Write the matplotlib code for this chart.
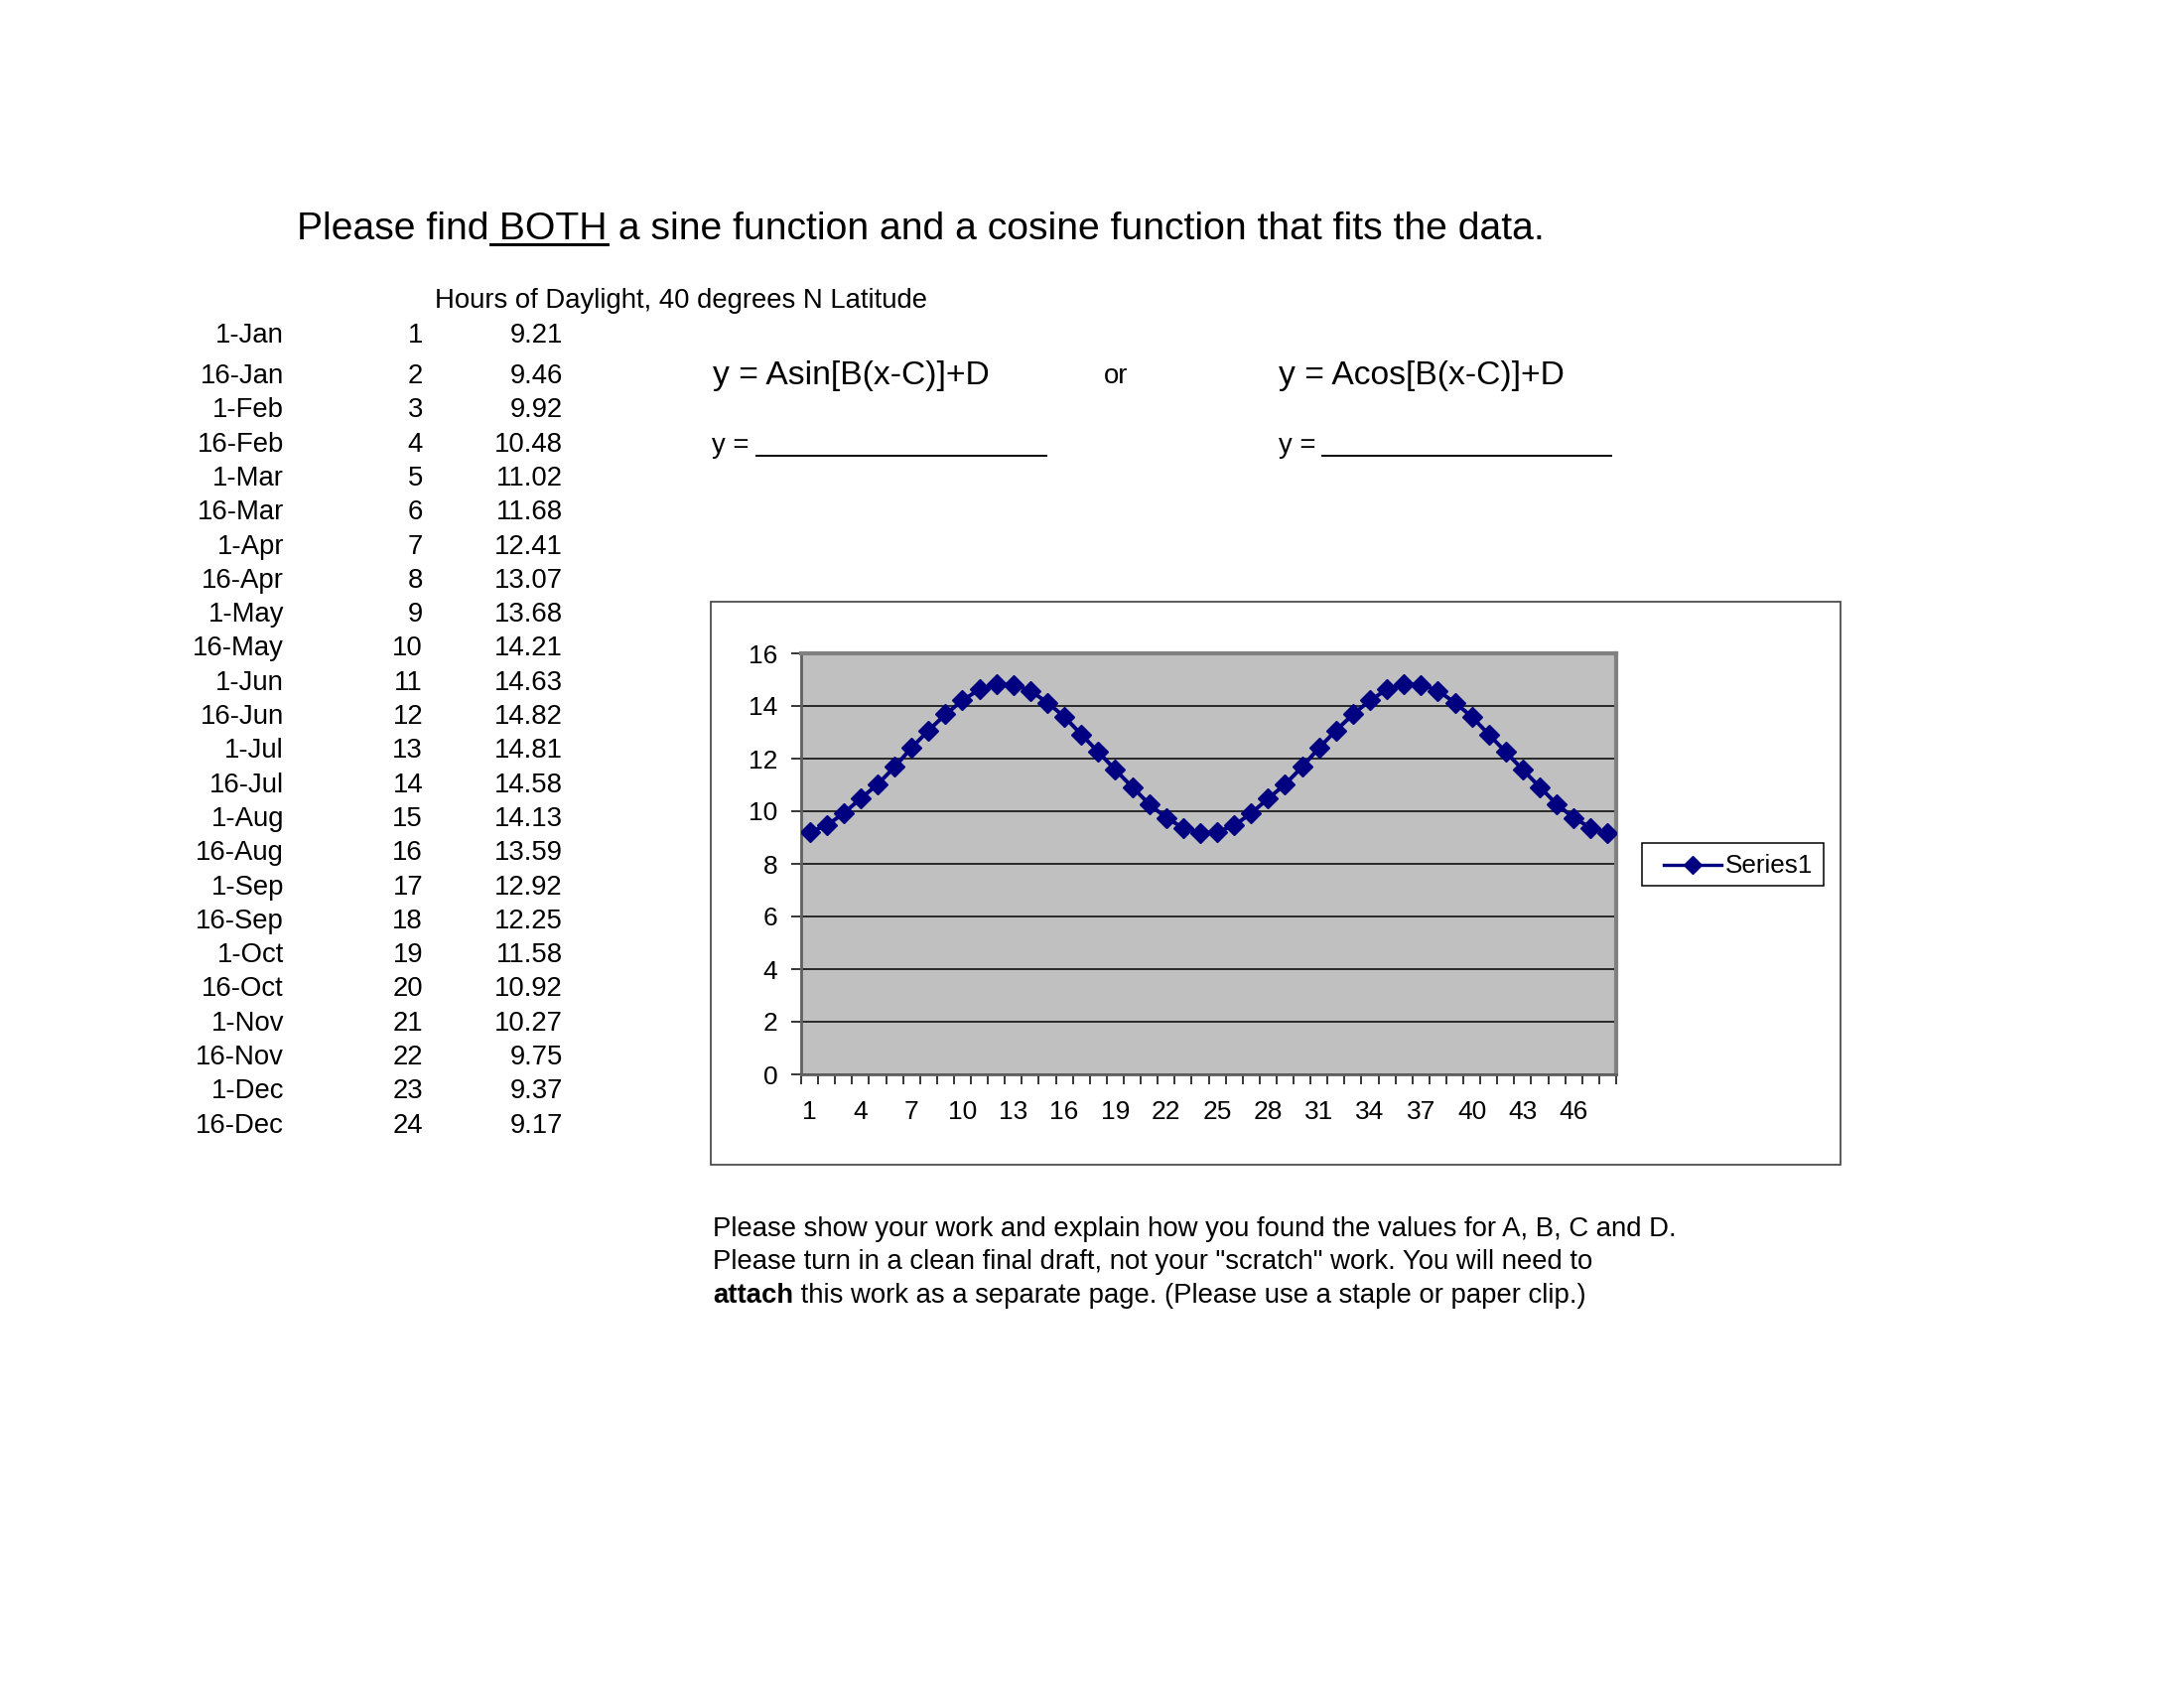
"""Hours of daylight worksheet: table, equations and an Excel-style line chart."""
import matplotlib
matplotlib.use("Agg")
import matplotlib.pyplot as plt
from matplotlib.lines import Line2D
from matplotlib.patches import Rectangle

W, H = 2200, 1700
FONT = "Liberation Sans"
NAVY = "#000080"
BODY = 19.8

DATES = ["1-Jan", "16-Jan", "1-Feb", "16-Feb", "1-Mar", "16-Mar", "1-Apr", "16-Apr",
         "1-May", "16-May", "1-Jun", "16-Jun", "1-Jul", "16-Jul", "1-Aug", "16-Aug",
         "1-Sep", "16-Sep", "1-Oct", "16-Oct", "1-Nov", "16-Nov", "1-Dec", "16-Dec"]
DAY_INDEX = list(range(1, 25))
HOURS = [9.21, 9.46, 9.92, 10.48, 11.02, 11.68, 12.41, 13.07, 13.68, 14.21, 14.63, 14.82,
         14.81, 14.58, 14.13, 13.59, 12.92, 12.25, 11.58, 10.92, 10.27, 9.75, 9.37, 9.17]

# the chart plots two years of the same readings
CHART_X = list(range(1, 49))
CHART_Y = [9.21, 9.46, 9.92, 10.48, 11.02, 11.68, 12.41, 13.07, 13.68, 14.21, 14.63, 14.82,
           14.81, 14.58, 14.13, 13.59, 12.92, 12.25, 11.58, 10.92, 10.27, 9.75, 9.37, 9.17,
           9.21, 9.46, 9.92, 10.48, 11.02, 11.68, 12.41, 13.07, 13.68, 14.21, 14.63, 14.82,
           14.81, 14.58, 14.13, 13.59, 12.92, 12.25, 11.58, 10.92, 10.27, 9.75, 9.37, 9.17]
X_LABELS = list(range(1, 47, 3))
Y_TICKS = list(range(0, 17, 2))


def fx(x):
    return x / W


def fy(y):
    return 1 - y / H


def put(fig, x, y, s, size=BODY, ha="left", **kw):
    return fig.text(fx(x), fy(y), s, ha=ha, va="center", fontsize=size,
                    family=FONT, **kw)


def hline(fig, x0, x1, y, lw=1.4):
    fig.add_artist(Line2D([fx(x0), fx(x1)], [fy(y), fy(y)], color="black", lw=lw,
                          transform=fig.transFigure))


def main():
    fig = plt.figure(figsize=(22, 17), dpi=100)
    fig.patch.set_facecolor("white")
    renderer = fig.canvas.get_renderer()

    # title, with " BOTH" underlined
    t1 = put(fig, 299, 231, "Please find", size=28.2)
    x_b = t1.get_window_extent(renderer).x1
    t2 = fig.text(x_b / W, fy(231), " BOTH", ha="left", va="center", fontsize=28.2, family=FONT)
    bb = t2.get_window_extent(renderer)
    hline(fig, bb.x0 + 2, bb.x1, 246, lw=2.2)
    fig.text(bb.x1 / W, fy(231), " a sine function and a cosine function that fits the data.",
             ha="left", va="center", fontsize=28.2, family=FONT)

    # data table
    put(fig, 438, 303, "Hours of Daylight, 40 degrees N Latitude")
    row_y = [338] + [379 + i * 34.3 for i in range(23)]
    for y, d, n, h in zip(row_y, DATES, DAY_INDEX, HOURS):
        put(fig, 286, y, d, ha="right")
        put(fig, 426, y, str(n), ha="right")
        put(fig, 567, y, f"{h:.2f}", ha="right")

    # equations
    put(fig, 718, 378, "y = Asin[B(x-C)]+D", size=24.2)
    put(fig, 1124, 379, "or", ha="center")
    put(fig, 1288, 378, "y = Acos[B(x-C)]+D", size=24.2)
    put(fig, 717, 449, "y =")
    hline(fig, 762, 1054, 459)
    put(fig, 1288, 449, "y =")
    hline(fig, 1332, 1623, 459)

    # chart frame
    fig.add_artist(Rectangle((fx(716), fy(1173)), fx(1854) - fx(716), fy(606) - fy(1173),
                             transform=fig.transFigure, fill=False, edgecolor="#404040", lw=1.2))

    ax = fig.add_axes([fx(807), fy(1082), fx(1628) - fx(807), fy(658) - fy(1082)])
    ax.set_facecolor("#C0C0C0")
    ax.plot(CHART_X, CHART_Y, color=NAVY, lw=2.8, marker="D", markersize=10,
            markerfacecolor=NAVY, markeredgecolor=NAVY, zorder=3)
    ax.set_xlim(0.5, 48.5)
    ax.set_ylim(0, 16)
    ax.set_yticks(Y_TICKS)
    ax.grid(axis="y", color="black", lw=1.1)
    ax.set_axisbelow(True)
    ax.set_xticks([i + 0.5 for i in range(0, 49)])
    ax.set_xticklabels([])
    ax.set_xticks(X_LABELS, minor=True)
    ax.set_xticklabels([str(v) for v in X_LABELS], minor=True)
    ax.tick_params(axis="x", which="major", direction="out", length=7, width=1.1, color="black")
    ax.tick_params(axis="x", which="minor", length=0, pad=19, labelsize=19)
    ax.tick_params(axis="y", direction="out", length=7, width=1.1, color="black",
                   labelsize=19, pad=10)
    for lab in ax.get_xticklabels(minor=True) + ax.get_yticklabels():
        lab.set_family(FONT)
    for side in ("top", "right"):
        ax.spines[side].set_color("#808080")
        ax.spines[side].set_linewidth(3)
    for side in ("left", "bottom"):
        ax.spines[side].set_color("#606060")
        ax.spines[side].set_linewidth(2)

    # legend
    fig.add_artist(Rectangle((fx(1654), fy(892)), fx(1837) - fx(1654), fy(849) - fy(892),
                             transform=fig.transFigure, fill=False, edgecolor="black", lw=1.1))
    fig.add_artist(Line2D([fx(1676), fx(1734)], [fy(871), fy(871)], color=NAVY, lw=2.4,
                          transform=fig.transFigure))
    fig.add_artist(Line2D([fx(1705)], [fy(871)], color=NAVY, marker="D", markersize=9,
                          transform=fig.transFigure))
    put(fig, 1738, 872, "Series1", size=18.8)

    # instructions
    put(fig, 718, 1238, "Please show your work and explain how you found the values for A, B, C and D.")
    put(fig, 718, 1271, "Please turn in a clean final draft, not your \"scratch\" work. You will need to")
    ta = put(fig, 718, 1305, "attach", weight="bold")
    xa = ta.get_window_extent(renderer).x1
    fig.text(xa / W, fy(1305), " this work as a separate page. (Please use a staple or paper clip.)",
             ha="left", va="center", fontsize=BODY, family=FONT)

    fig.savefig("out.png", dpi=100)


if __name__ == "__main__":
    main()
